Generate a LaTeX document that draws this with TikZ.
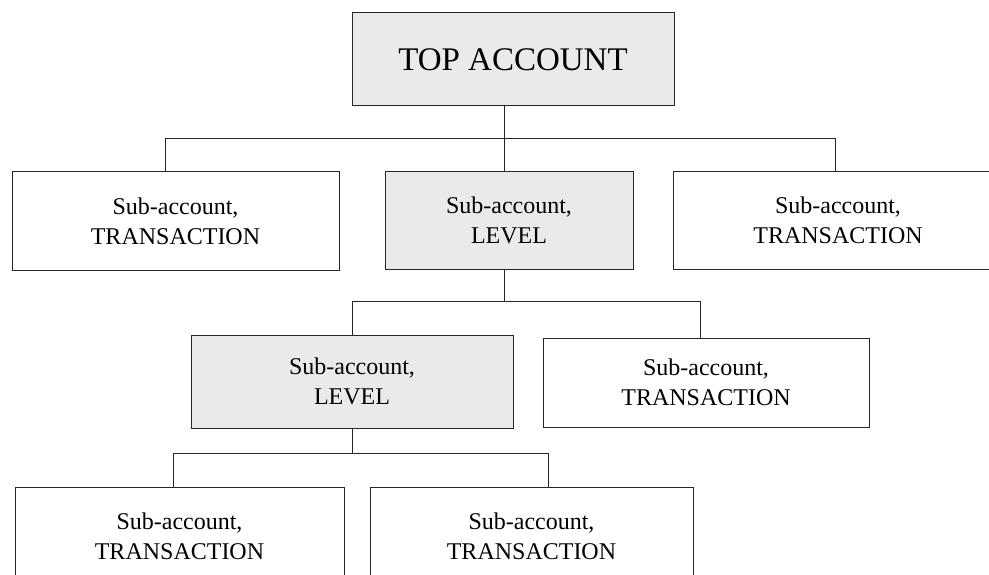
\documentclass[tikz,border=0pt]{standalone}
\usepackage{fontspec}
\setmainfont{Liberation Serif}
\usepackage{tikz}
\usetikzlibrary{calc,positioning}
\definecolor{boxgray}{HTML}{EAEAEA}

\begin{document}
\begin{tikzpicture}[x=1pt,y=-1pt,
	acc/.style = {rectangle, draw = black!85, line width = 1pt, align = center, inner sep = 0pt,
		font = \fontsize{24}{30}\selectfont},
	lvl/.style = {acc, fill = boxgray},
	link/.style = {draw = black!85, line width = 1pt}]
\useasboundingbox (0,0) rectangle (989,575);
\clip (0,0) rectangle (989,575);
\node[lvl, minimum width = 322, minimum height = 93, font = \fontsize{33}{40}\selectfont] (0) at (513,59.5) {TOP ACCOUNT};
\node[acc, minimum width = 327, minimum height = 98] (1) at (175.5,221) {Sub-account,\\TRANSACTION};
\node[lvl, minimum width = 248, minimum height = 97] (2) at (509,220.5) {Sub-account,\\LEVEL};
\node[acc, minimum width = 330, minimum height = 97] (3) at (838,220.5) {Sub-account,\\TRANSACTION};
\node[lvl, minimum width = 322, minimum height = 93] (4) at (352,381.5) {Sub-account,\\LEVEL};
\node[acc, minimum width = 326, minimum height = 89] (5) at (706,382.5) {Sub-account,\\TRANSACTION};
\node[acc, minimum width = 329, minimum height = 98] (6) at (179.5,536) {Sub-account,\\TRANSACTION};
\node[acc, minimum width = 323, minimum height = 98] (7) at (531.5,536) {Sub-account,\\TRANSACTION};
% bus lines
\coordinate (a) at (504,139);
\coordinate (al) at (165,139);
\coordinate (ar) at (835,139);
\coordinate (b) at (504,301);
\coordinate (bl) at (352,301);
\coordinate (br) at (700,301);
\coordinate (c) at (352,453);
\coordinate (cl) at (173,453);
\coordinate (cr) at (548,453);
	\path[link] (0.south -| a) -- (2.north -| a);
	\path[link] (1.north -| al) -- (al) -- (ar) -- (3.north -| ar);
	\path[link] (2.south -| b) -- (b);
	\path[link] (4.north -| bl) -- (bl) -- (br) -- (5.north -| br);
	\path[link] (4.south -| c) -- (c);
	\path[link] (6.north -| cl) -- (cl) -- (cr) -- (7.north -| cr);
\end{tikzpicture}
\end{document}
